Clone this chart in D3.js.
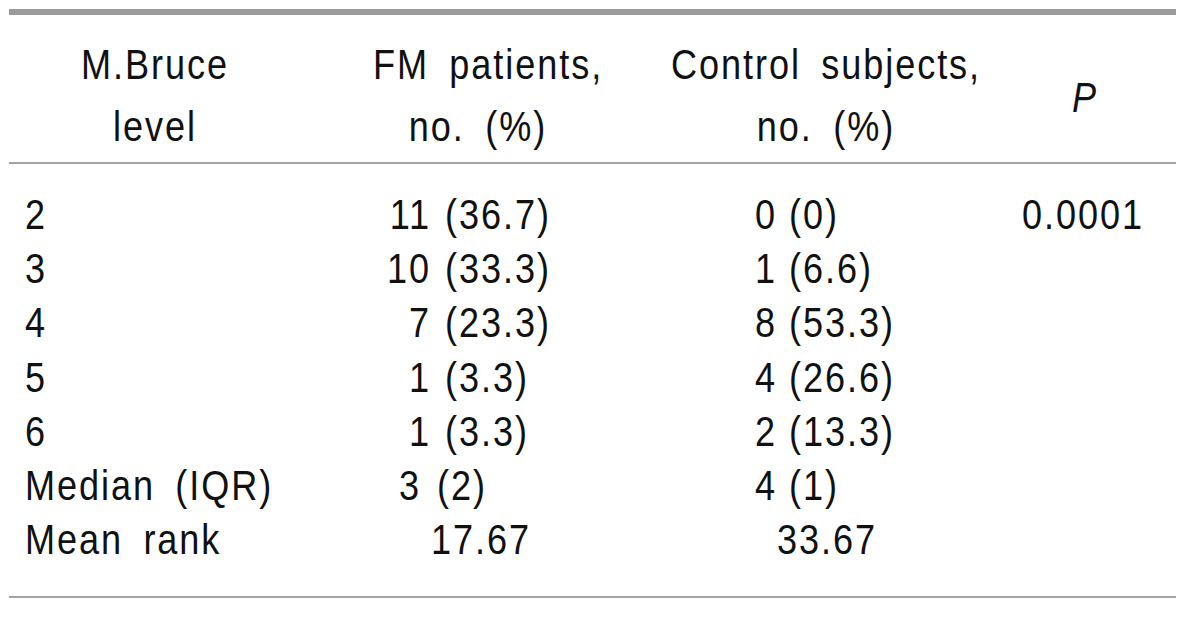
<!DOCTYPE html>
<html><head><meta charset="utf-8">
<script src="https://cdn.jsdelivr.net/npm/d3@7"></script>
<style>
html,body{margin:0;padding:0;background:#fff;}
svg text{font-family:"Liberation Sans",Arial,sans-serif;fill:#111;}
</style></head>
<body><svg id="c" width="1200" height="630"></svg>
<script>
// ---- data ----
const headers = [["M.Bruce","level"],["FM patients,","no. (%)"],["Control subjects,","no. (%)"],["P"]];
const rowLabels = ["2","3","4","5","6","Median (IQR)","Mean rank"];
const fmCount = ["11","10","7","1","1","3"];
const fmPct = ["(36.7)","(33.3)","(23.3)","(3.3)","(3.3)","(2)"];
const ctrlCount = ["0","1","8","4","2","4"];
const ctrlPct = ["(0)","(6.6)","(53.3)","(26.6)","(13.3)","(1)"];
const meanRank = ["17.67","33.67"];
const pValues = ["0.0001"];

// ---- layout ----
const svg = d3.select("#c");
const fs = 43, sx = 0.84, ls = 2.3, ws = 10;
const x0 = 9, x1 = 1176;
const y = d3.scalePoint().domain(d3.range(rowLabels.length)).range([214, 539]);

svg.append("rect").attr("x",x0).attr("y",9).attr("width",x1-x0).attr("height",6).attr("fill","#9a9a9a");
svg.append("rect").attr("x",x0).attr("y",162).attr("width",x1-x0).attr("height",2).attr("fill","#a4a4a4");
svg.append("rect").attr("x",x0).attr("y",596).attr("width",x1-x0).attr("height",2).attr("fill","#a4a4a4");

const g = svg.append("g");
function txt(x, yy, s, anchor, italic){
  return g.append("text")
    .attr("transform",`translate(${x},${yy}) scale(${sx},1)`)
    .attr("font-size",fs)
    .attr("dominant-baseline","central")
    .attr("text-anchor",anchor)
    .attr("letter-spacing",ls)
    .attr("word-spacing",ws)
    .attr("font-style", italic ? "italic" : "normal")
    .text(s);
}
const hx = [[155,155],[488,478],[826,826],[1085]];
headers.forEach((lines,i)=>{
  if(lines.length===1) txt(hx[i][0], 97, lines[0], "middle", true);
  else lines.forEach((l,j)=>txt(hx[i][j], j===0?64:126, l, "middle"));
});

rowLabels.forEach((s,i)=>txt(25, y(i), s, "start"));
fmCount.forEach((s,i)=>txt(i===5?421:431, y(i), s, "end"));
fmPct.forEach((s,i)=>txt(i===5?437:445, y(i), s, "start"));
ctrlCount.forEach((s,i)=>txt(777, y(i), s, "end"));
ctrlPct.forEach((s,i)=>txt(789, y(i), s, "start"));
txt(431, y(6), meanRank[0], "start");
txt(777, y(6), meanRank[1], "start");
txt(1083, y(0), pValues[0], "middle");
</script></body></html>
